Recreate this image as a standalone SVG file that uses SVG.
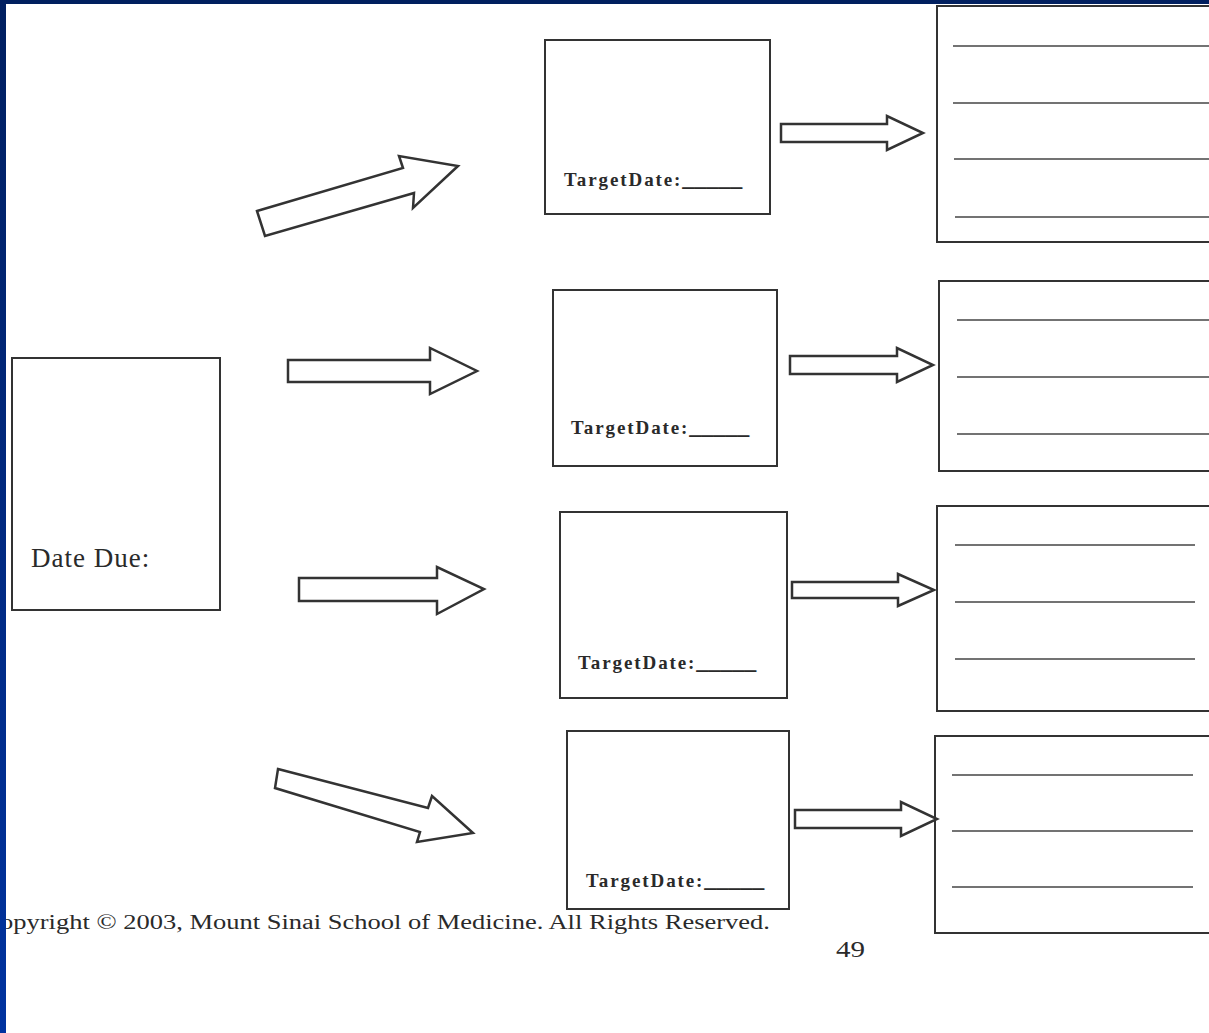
<svg xmlns="http://www.w3.org/2000/svg" width="1209" height="1033" viewBox="0 0 1209 1033">
<defs>
<linearGradient id="side" x1="0" y1="0" x2="0" y2="1">
<stop offset="0" stop-color="#001f60"/>
<stop offset="1" stop-color="#0033a0"/>
</linearGradient>
</defs>
<style>
.box{fill:#ffffff;stroke:#333333;stroke-width:2}
.arr{fill:#ffffff;stroke:#333333;stroke-width:2.5;stroke-linejoin:miter}
.rule{stroke:#444444;stroke-width:1.3}
.td{font-family:"Liberation Serif",serif;font-weight:bold;font-size:19px;letter-spacing:1.9px;fill:#2a2a2a}
.ul{letter-spacing:0px;font-size:24px}
.dd{font-family:"Liberation Serif",serif;font-size:27px;letter-spacing:1px;fill:#2a2a2a}
.foot{font-family:"Liberation Serif",serif;font-size:20px;fill:#2a2a2a}
.pg{font-family:"Liberation Serif",serif;font-size:23px;fill:#2a2a2a}
</style>
<rect x="0" y="0" width="1209" height="1033" fill="#ffffff"/>

<g id="date-due">
<rect class="box" x="12" y="358" width="208" height="252"/>
<text class="dd" x="31" y="567">Date Due:</text>
</g>

<g id="target1">
<rect class="box" x="545" y="40" width="225" height="174"/>
<text class="td" x="564" y="186">TargetDate:<tspan class="ul">_____</tspan></text>
</g>
<g id="target2">
<rect class="box" x="553" y="290" width="224" height="176"/>
<text class="td" x="571" y="434">TargetDate:<tspan class="ul">_____</tspan></text>
</g>
<g id="target3">
<rect class="box" x="560" y="512" width="227" height="186"/>
<text class="td" x="578" y="669">TargetDate:<tspan class="ul">_____</tspan></text>
</g>
<g id="target4">
<rect class="box" x="567" y="731" width="222" height="178"/>
<text class="td" x="586" y="887">TargetDate:<tspan class="ul">_____</tspan></text>
</g>

<g id="steps1">
<rect class="box" x="937" y="6" width="290" height="236"/>
<line class="rule" x1="953" y1="46" x2="1209" y2="46"/>
<line class="rule" x1="953" y1="103" x2="1209" y2="103"/>
<line class="rule" x1="954" y1="159" x2="1209" y2="159"/>
<line class="rule" x1="955" y1="217" x2="1209" y2="217"/>
</g>
<g id="steps2">
<rect class="box" x="939" y="281" width="290" height="190"/>
<line class="rule" x1="957" y1="320" x2="1209" y2="320"/>
<line class="rule" x1="957" y1="377" x2="1209" y2="377"/>
<line class="rule" x1="957" y1="434" x2="1209" y2="434"/>
</g>
<g id="steps3">
<rect class="box" x="937" y="506" width="290" height="205"/>
<line class="rule" x1="955" y1="545" x2="1195" y2="545"/>
<line class="rule" x1="955" y1="602" x2="1195" y2="602"/>
<line class="rule" x1="955" y1="659" x2="1195" y2="659"/>
</g>
<g id="steps4">
<rect class="box" x="935" y="736" width="290" height="197"/>
<line class="rule" x1="952" y1="775" x2="1193" y2="775"/>
<line class="rule" x1="952" y1="831" x2="1193" y2="831"/>
<line class="rule" x1="952" y1="887" x2="1193" y2="887"/>
</g>

<g id="connectors">
<polygon class="arr" points="257,211 403,168 399,156 458,166 413,208 414,193 265,236"/>
<polygon class="arr" points="288,360 430,360 430,348 477,371 430,394 430,382 288,382"/>
<polygon class="arr" points="299,578 437,578 437,567 484,589 437,614 437,601 299,601"/>
<polygon class="arr" points="278,769 428,808 432,796 473,833 417,842 420,832 275,788"/>
<polygon class="arr" points="781,124 887,124 887,116 923,133 887,150 887,142 781,142"/>
<polygon class="arr" points="790,356 897,356 897,348 933,365 897,382 897,374 790,374"/>
<polygon class="arr" points="792,582 898,582 898,574 934,590 898,606 898,598 792,598"/>
<polygon class="arr" points="795,810 901,810 901,802 937,819 901,836 901,828 795,828"/>
</g>

<text class="foot" x="0" y="929" textLength="770" lengthAdjust="spacingAndGlyphs">opyright © 2003, Mount Sinai School of Medicine. All Rights Reserved.</text>
<text class="pg" x="836" y="957" textLength="29" lengthAdjust="spacingAndGlyphs">49</text>

<rect x="0" y="0" width="1209" height="4" fill="#001f5f"/>
<rect x="0" y="0" width="6" height="1033" fill="url(#side)"/>
</svg>
